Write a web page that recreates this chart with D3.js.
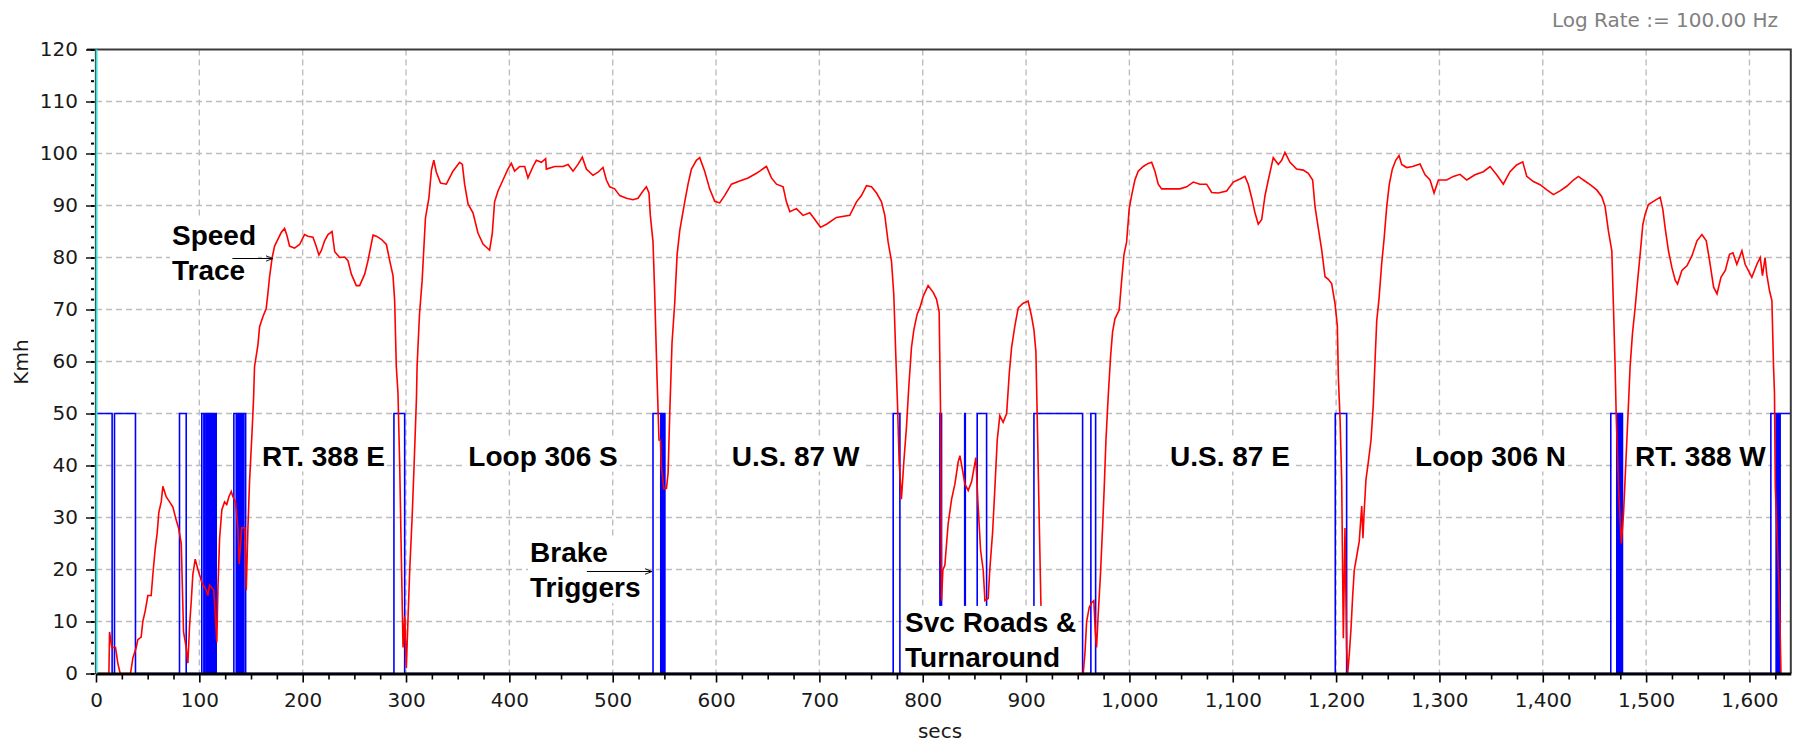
<!DOCTYPE html>
<html>
<head>
<meta charset="utf-8">
<script src="https://cdn.jsdelivr.net/npm/d3@7/dist/d3.min.js"></script>
<style>
  body { margin: 0; background: #fff; }
  svg { display: block; }
  .note text { white-space: pre; }
</style>
</head>
<body>
<div id="chart"></div>
<script>
// Speed trace, secs and km/h
const speedSecs = [0, 12.5, 13.1, 15.3, 18.9, 21.1, 23.4, 33.4, 35.7, 38.9, 40.5, 43.7, 45.3, 47.6, 50.2, 53.4, 55, 57.3, 59.2, 60.8,
  63.1, 64.7, 67.9, 71.2, 74.4, 77.6, 79.9, 82.5, 83.4, 84.7, 87.3, 88.9, 90.5, 92.2, 93.7, 96, 98.6, 100.2, 102.4, 106.7,
  108.2, 109.9, 114, 116.9, 118, 119.6, 121.8, 124.4, 126.5, 128.6, 130.9, 132.5, 135, 137.3, 138.5, 141, 144, 145.4, 147, 148.6,
  150.9, 152.5, 153.4, 156.7, 158.3, 161.5, 164.7, 166.3, 167.9, 170.5, 172.8, 176, 179.2, 182.5, 184.7, 187.3, 192.1, 197, 201.8, 205,
  209.9, 212.5, 215.7, 218, 221.2, 224.5, 228.4, 231, 235.8, 240.6, 243.8, 247.1, 251.9, 255.1, 260, 263.2, 268.1, 271.3, 276.1, 281,
  284.2, 287.4, 289, 290.6, 292.2, 293.9, 295.5, 297.1, 298.7, 300.3, 302, 303.6, 305.9, 307.8, 310.1, 310.7, 313, 315.6, 318.8, 322.1,
  324.6, 326.9, 329.2, 333.4, 339, 345.4, 351.9, 354.5, 356.7, 360, 364.8, 369.6, 374.5, 380.9, 383.5, 385.7, 389, 393.8, 398.6, 401.9,
  405.1, 410, 414.8, 418, 422.9, 426.1, 431, 435.1, 435.8, 443.9, 451.9, 456.8, 461.6, 466.4, 470.6, 474.5, 480.9, 485.8, 490.6, 493.9,
  497.1, 501.9, 506.8, 513.3, 519.7, 524.5, 529.3, 532.6, 535.1, 536.4, 539, 540.6, 542.9, 544.8, 546.2, 547, 549.5, 552, 553.6, 555.2,
  557.4, 560, 562.3, 564.9, 569.7, 572.9, 576.2, 581, 584.2, 589, 593.8, 598.7, 603.5, 608.3, 614.9, 622.9, 631, 639.1, 642.3, 647.1,
  648.8, 653.6, 658.5, 664.9, 668.1, 671.4, 677.8, 684.2, 690.7, 695.6, 701, 706.9, 716.5, 729.4, 735.9, 740.7, 745.6, 750.4, 755.3, 760.1,
  763.3, 766.5, 769.8, 772, 773.9, 775.6, 777.2, 779.4, 781.7, 784.3, 786.5, 789.1, 791.4, 794.6, 797.2, 800.4, 805.2, 810.1, 813.3, 815.9,
  817.2, 818.2, 819.5, 821.4, 824.6, 827.9, 831.1, 834.3, 836, 838.6, 840.8, 844, 847.3, 851.4, 853.6, 856, 858.5, 860.2, 863.3, 865,
  867.6, 869.8, 872.1, 874.6, 877.8, 881.2, 883.7, 886, 889.2, 892.4, 897.2, 902, 905.4, 907.6, 909.5, 910.8, 912.7, 914.3, 916, 955.3,
  957, 958.6, 961.1, 963.4, 965.6, 967, 968.2, 969.8, 972.1, 974, 975.6, 977.3, 979.5, 981.8, 983.7, 986, 990.1, 992.4, 994.7, 997.3,
  999.8, 1002.1, 1005.3, 1008.5, 1013.4, 1018.2, 1021.5, 1024.7, 1027.9, 1031.2, 1039.2, 1048.9, 1055.4, 1061.8, 1068.2, 1074.7, 1079.6, 1086, 1094.1, 1100.5,
  1107, 1111.8, 1115, 1118.3, 1121.5, 1124.7, 1128, 1131.2, 1134.4, 1139.2, 1144.1, 1147.3, 1150.5, 1155.4, 1161.8, 1168.3, 1173.1, 1177.3, 1179.6, 1182.8,
  1186.1, 1189.3, 1192.5, 1195.7, 1198.9, 1201.2, 1202.2, 1203.8, 1205.4, 1207, 1208.6, 1210.2, 1211.2, 1212.8, 1214.4, 1216, 1217.6, 1219.9, 1222.4, 1224.8,
  1226, 1227, 1228.9, 1231.2, 1233.8, 1236, 1237.7, 1239.3, 1241.5, 1244.1, 1246.4, 1249, 1251.5, 1254.4, 1257.7, 1260.9, 1263.5, 1268.3, 1274, 1281.2,
  1286.1, 1290.9, 1294.8, 1299, 1307, 1313.5, 1319.9, 1326.4, 1334.4, 1342.5, 1349, 1355.4, 1361.8, 1368.3, 1374.7, 1380.6, 1384.5, 1390.9, 1397.4, 1403.9,
  1410.3, 1416.7, 1423.2, 1429.6, 1434.5, 1439.3, 1445.8, 1452.2, 1457.1, 1460.3, 1463.5, 1466.8, 1468.4, 1470, 1471, 1473.5, 1476, 1478.1, 1480.6, 1482.9,
  1484.5, 1486.8, 1489.3, 1491.6, 1494.2, 1496.8, 1499, 1502.2, 1507.1, 1513.6, 1516.2, 1518.4, 1521.6, 1524.9, 1528.2, 1530.4, 1534.6, 1539.5, 1544.3, 1549.2,
  1554, 1558.2, 1561.4, 1565.3, 1568.6, 1572.4, 1576.6, 1580.7, 1584, 1587.8, 1592.7, 1595.8, 1602.3, 1607.2, 1610.4, 1612.6, 1615.1, 1616.7, 1619.4, 1621.7,
  1623.3, 1624.2, 1625, 1628.5, 1629.5, 1630.5];
const speedKmh = [0, 0, 8, 5, 5, 2, 0, 0, 3, 5, 6.5, 7, 10, 12, 15, 15, 19, 24, 27, 31,
  33, 36, 34, 33, 32, 29.5, 28, 25, 18, 8, 5, 2, 9, 14, 19, 22, 20, 19, 17.5, 16,
  15, 17, 16, 6, 16.5, 26, 31.5, 33, 32.5, 34, 35, 34, 33, 28, 21, 28, 28, 16, 28, 37,
  46, 53, 59, 63.2, 66.7, 68.6, 70.2, 73, 76.2, 80, 82.2, 83.5, 84.8, 85.6, 84.3, 82.2, 81.8, 82.5, 84.4, 84.1,
  83.9, 82.5, 80.5, 81.3, 83.2, 84.4, 85, 81.1, 80, 80.1, 79.4, 76.8, 74.6, 74.6, 76.8, 79.4, 84.3, 84.1, 83.5, 82.5,
  79.4, 76.5, 71.7, 59, 54, 40, 22, 5, 11, 1, 11, 20, 30, 40, 53, 59, 69, 75.6, 87.6, 91.4,
  96.8, 98.7, 96.5, 94.3, 94.1, 96.6, 98.3, 97.9, 94.1, 90.3, 88.6, 84.7, 82.6, 81.4, 84.7, 90.7, 92.8, 94.9, 97, 98.1,
  96.6, 97.5, 97.5, 95.3, 97.5, 98.7, 98.3, 99, 97, 97.5, 97.5, 97.9, 96.6, 97.9, 99.3, 97, 95.8, 96.4, 97.3, 94.9,
  93.6, 93.2, 91.9, 91.4, 91.1, 91.4, 92.8, 93.6, 92.4, 88.1, 83, 73.3, 56.8, 44.9, 44.9, 40, 35.5, 35.6, 38.6, 50,
  63.6, 71.2, 80.5, 85.2, 90.7, 94.1, 97, 98.7, 99.2, 96.6, 93.2, 90.8, 90.5, 91.9, 94.1, 94.7, 95.3, 96.2, 96.6, 97.3,
  97.5, 95.3, 94.1, 93.6, 90.7, 88.8, 89.4, 88.1, 88.6, 87.3, 85.8, 86.4, 87.7, 88.1, 90.7, 91.9, 93.8, 93.6, 92.4, 90.7,
  88.1, 83, 79.2, 72.9, 61.4, 51.7, 40.7, 33.5, 40.7, 47.5, 55.1, 62.7, 66.1, 69.1, 70.3, 72.5, 74.6, 73.3, 72, 69.5,
  50.8, 14, 19.9, 20.8, 28.8, 33.5, 36.4, 40.7, 41.9, 39, 36.4, 35.2, 36.9, 41.5, 32.2, 23.7, 19.9, 14, 14.4, 20.3,
  27.1, 35.6, 44.9, 49.6, 48.3, 50, 57.6, 62.7, 66.9, 70.3, 71.2, 71.6, 68.6, 66.1, 61.9, 49.2, 29.7, 14, 0, 0,
  4, 10, 12.7, 13.6, 14, 8, 5, 11.4, 19.5, 28, 35.6, 44.9, 53.4, 61, 65.7, 68.2, 69.9, 75.4, 80.5, 83,
  89.4, 91.9, 94.9, 96.6, 97.5, 98.1, 98.3, 96.6, 94.1, 93.2, 93.2, 93.2, 93.6, 94.5, 94.1, 94.1, 92.5, 92.4, 92.8, 94.5,
  95.1, 95.6, 94.1, 91.5, 88.6, 86.4, 87.3, 91.9, 94.9, 99.2, 97.9, 98.7, 100.2, 98.3, 97, 96.8, 96.2, 94.9, 89.8, 85.6,
  81.4, 76.3, 75.8, 75, 71.2, 66.9, 56.8, 49.2, 37.3, 6.8, 28, 5, 0, 3.8, 8.5, 14.8, 19.9, 22.5, 25.4, 32.2,
  26, 30.5, 37.3, 40.7, 44.9, 51.7, 60.2, 67.8, 72, 78.8, 83.5, 89.8, 94.1, 97, 98.7, 99.6, 97.9, 97.3, 97.5, 98,
  95.9, 94.9, 92.4, 94.9, 94.9, 95.6, 96, 94.9, 95.9, 96.5, 97.5, 95.9, 94.1, 96.5, 97.8, 98.4, 95.6, 94.6, 94, 93,
  92.1, 92.8, 93.7, 94.9, 95.6, 94.9, 94, 93, 91.7, 89.8, 85.1, 81.3, 70.5, 59, 50, 35, 25, 30.6, 41.5, 51.7,
  59, 65.4, 70.2, 75.2, 80.6, 86.3, 88.3, 90.2, 90.8, 91.6, 89.2, 85.7, 81.3, 78.1, 75.6, 74.9, 77.5, 78.4, 80.3, 83.2,
  84.4, 83.2, 79.4, 74.3, 73, 76.2, 77.5, 80.6, 80.9, 78.7, 81.3, 78.7, 76.2, 78.7, 80, 76.5, 80, 76.8, 73.6, 71.7,
  59, 54, 36, 17, 10, 0];

// Brake trigger channel: step changes (secs) and level shown on the chart
const brakeSecs = [0, 15.6, 17.9, 38.2, 80.8, 87.3, 102.4, 104.4, 105.4, 107, 108.5, 109.5, 110.5, 112, 113, 114.5, 115, 116.3,
  133.4, 135.7, 137, 138.3, 139, 140.5, 141, 142.5, 143, 144.8, 288.3, 298.7, 539, 546.5, 547.5, 548.5, 549, 550.5,
  771.4, 777.9, 816.6, 817.2, 817.6, 818.2, 840.6, 841.2, 852.7, 861.8, 907.6, 954.7, 962.7, 967.3, 1199.2, 1210.2,
  1465.8, 1471.6, 1472.3, 1473, 1473.6, 1474.3, 1475, 1475.7, 1476.3, 1477.1, 1620.7, 1625.8, 1626.5, 1627.3, 1628, 1628.8, 1629.7, 1640];
const brakeKmh = [50, 0, 50, 0, 50, 0, 50, 0, 50, 0, 50, 0, 50, 0, 50, 0, 50, 0,
  50, 0, 50, 0, 50, 0, 50, 0, 50, 0, 50, 0, 50, 0, 50, 0, 50, 0,
  50, 0, 50, 0, 50, 0, 50, 0, 50, 0, 50, 0, 50, 0, 50, 0,
  50, 0, 50, 0, 50, 0, 50, 0, 50, 0, 50, 0, 50, 0, 50, 0, 50, 50];

// Axis ticks
const xTicks = d3.range(0, 1601, 100);
const xMinorTicks = d3.range(0, 1640, 25).filter(d => d % 100 !== 0);
const yTicks = d3.range(0, 121, 10);
const yMinorTicks = d3.range(0, 121, 2);

// Road sections written along the 40 km/h line
const routeNames = ['RT. 388 E', 'Loop 306 S', 'U.S. 87 W', 'U.S. 87 E', 'Loop 306 N', 'RT. 388 W'];
const routeSecs = [160.6, 360.3, 615.2, 1039.3, 1276.4, 1489.3];

function drawChart() {
    const width = 1798;
    const height = 744;

    const svg = d3.select('#chart').append('svg')
        .attr('width', width)
        .attr('height', height);

    // Scales
    const x = d3.scaleLinear().domain([0, 1640]).range([96, 1790.8]);
    const y = d3.scaleLinear().domain([0, 120]).range([673.5, 49.5]);

    const font = 'DejaVu Sans, Verdana, sans-serif';
    const boldFont = 'Liberation Sans, Arial, sans-serif';

    svg.append('defs').append('clipPath')
        .attr('id', 'plot-clip')
        .append('rect')
        .attr('x', x(0)).attr('y', y(120))
        .attr('width', x(1640) - x(0)).attr('height', y(0) - y(120));

    // Dashed grid
    const grid = svg.append('g')
        .attr('stroke', '#bdbdbd')
        .attr('stroke-width', 1.4)
        .attr('stroke-dasharray', '6,4');
    grid.selectAll('.vgrid')
        .data(xTicks.filter(d => d > 0))
        .enter().append('line')
        .attr('x1', d => x(d)).attr('x2', d => x(d))
        .attr('y1', y(120)).attr('y2', y(0));
    grid.selectAll('.hgrid')
        .data(yTicks.filter(d => d > 0 && d < 120))
        .enter().append('line')
        .attr('x1', x(0)).attr('x2', x(1640))
        .attr('y1', d => y(d)).attr('y2', d => y(d));

    const plot = svg.append('g').attr('clip-path', 'url(#plot-clip)');

    // Brake triggers (blue steps)
    const brake = brakeSecs.map((t, i) => ({ t: t, v: brakeKmh[i] }));
    plot.append('path')
        .datum(brake)
        .attr('fill', 'none')
        .attr('stroke', '#0000ff')
        .attr('stroke-width', 1.6)
        .attr('d', d3.line().curve(d3.curveStepAfter).x(d => x(d.t)).y(d => y(d.v)));

    // Speed trace (red)
    const speed = speedSecs.map((t, i) => ({ t: t, v: speedKmh[i] }));
    plot.append('path')
        .datum(speed)
        .attr('fill', 'none')
        .attr('stroke', '#ff0000')
        .attr('stroke-width', 1.6)
        .attr('stroke-linejoin', 'miter')
        .attr('d', d3.line().x(d => x(d.t)).y(d => y(d.v)));

    // Text notes with a white box behind them
    function addNote(lines, t, v, gap) {
        const g = svg.append('g').attr('class', 'note');
        const text = g.selectAll('text')
            .data(lines)
            .enter().append('text')
            .attr('x', x(t))
            .attr('y', (d, i) => y(v) + i * gap)
            .attr('font-family', boldFont)
            .attr('font-weight', 'bold')
            .attr('font-size', '28px')
            .attr('fill', '#000')
            .text(d => d);
        const box = g.node().getBBox();
        g.insert('rect', 'text')
            .attr('x', box.x - 2).attr('y', box.y - 1)
            .attr('width', box.width + 4).attr('height', box.height + 1)
            .attr('fill', '#fff');
        return text;
    }

    routeNames.forEach((name, i) => addNote([name], routeSecs[i], 40, 0));
    addNote(['Speed', 'Trace'], 73.5, 82.4, 35);
    addNote(['Brake', 'Triggers'], 420, 21.4, 35);
    addNote(['Svc Roads &', 'Turnaround'], 782.9, 8, 35);

    // Arrows pointing at the traces
    svg.append('defs').append('marker')
        .attr('id', 'arrow')
        .attr('viewBox', '0 -5 10 10')
        .attr('refX', 10)
        .attr('refY', 0)
        .attr('markerWidth', 7)
        .attr('markerHeight', 7)
        .attr('markerUnits', 'userSpaceOnUse')
        .attr('orient', 'auto')
        .append('path')
        .attr('d', 'M0,-4L10,0L0,4')
        .attr('fill', 'none')
        .attr('stroke', '#000')
        .attr('stroke-width', 1.3);

    const arrows = [[132, 171, 80], [475, 538, 19.8]];
    svg.append('g').selectAll('line')
        .data(arrows)
        .enter().append('line')
        .attr('x1', d => x(d[0])).attr('x2', d => x(d[1]))
        .attr('y1', d => Math.round(y(d[2])) + 0.5).attr('y2', d => Math.round(y(d[2])) + 0.5)
        .attr('stroke', '#000')
        .attr('stroke-width', 1.2)
        .attr('marker-end', 'url(#arrow)');

    // Frame: top and right border
    svg.append('path')
        .attr('d', `M${x(0) - 9},${y(120)}H${x(1640)}V${y(0)}`)
        .attr('fill', 'none')
        .attr('stroke', '#3a3a3a')
        .attr('stroke-width', 2);

    // X axis
    const xAxis = svg.append('g')
        .attr('transform', `translate(0,${y(0)})`)
        .call(d3.axisBottom(x).tickValues(xTicks).tickFormat(d3.format(',')).tickSize(9).tickSizeOuter(0).tickPadding(10));
    xAxis.select('.domain').attr('stroke', '#000').attr('stroke-width', 3);
    xAxis.selectAll('.tick line').attr('stroke', '#000').attr('stroke-width', 1.6);
    xAxis.selectAll('text')
        .attr('font-family', font).attr('font-size', '20px').attr('fill', '#1a1a1a');

    const xMinor = svg.append('g')
        .attr('transform', `translate(0,${y(0)})`)
        .call(d3.axisBottom(x).tickValues(xMinorTicks).tickFormat('').tickSize(6).tickSizeOuter(0));
    xMinor.select('.domain').remove();
    xMinor.selectAll('.tick line').attr('stroke', '#000').attr('stroke-width', 1.6);

    // Y axis: black rule with ticks, cyan line next to the plot
    const yAxis = svg.append('g')
        .attr('transform', `translate(${x(0) - 1},0)`)
        .call(d3.axisLeft(y).tickValues(yTicks).tickSize(9).tickSizeOuter(0).tickPadding(8));
    yAxis.select('.domain').attr('stroke', '#000').attr('stroke-width', 1.2);
    yAxis.selectAll('.tick line').attr('stroke', '#000').attr('stroke-width', 1.4);
    yAxis.selectAll('text')
        .attr('font-family', font).attr('font-size', '20px').attr('fill', '#1a1a1a');

    const yMinor = svg.append('g')
        .attr('transform', `translate(${x(0) - 2},0)`)
        .call(d3.axisLeft(y).tickValues(yMinorTicks).tickFormat('').tickSize(3).tickSizeOuter(0));
    yMinor.select('.domain').remove();
    yMinor.selectAll('.tick line').attr('stroke', '#000').attr('stroke-width', 2);

    svg.append('line')
        .attr('x1', x(0) + 0.5).attr('x2', x(0) + 0.5)
        .attr('y1', y(120)).attr('y2', y(0))
        .attr('stroke', '#3fdcdc')
        .attr('stroke-width', 2);

    // Axis titles and log rate note
    svg.append('text')
        .attr('x', 940).attr('y', 738)
        .attr('text-anchor', 'middle')
        .attr('font-family', font).attr('font-size', '20px').attr('fill', '#1a1a1a')
        .text('secs');

    svg.append('text')
        .attr('transform', 'translate(28,362) rotate(-90)')
        .attr('text-anchor', 'middle')
        .attr('font-family', font).attr('font-size', '20px').attr('fill', '#1a1a1a')
        .text('Kmh');

    svg.append('text')
        .attr('x', 1778).attr('y', 27)
        .attr('text-anchor', 'end')
        .attr('font-family', font).attr('font-size', '20px').attr('fill', '#808080')
        .text('Log Rate := 100.00 Hz');
}

drawChart();
</script>
</body>
</html>
